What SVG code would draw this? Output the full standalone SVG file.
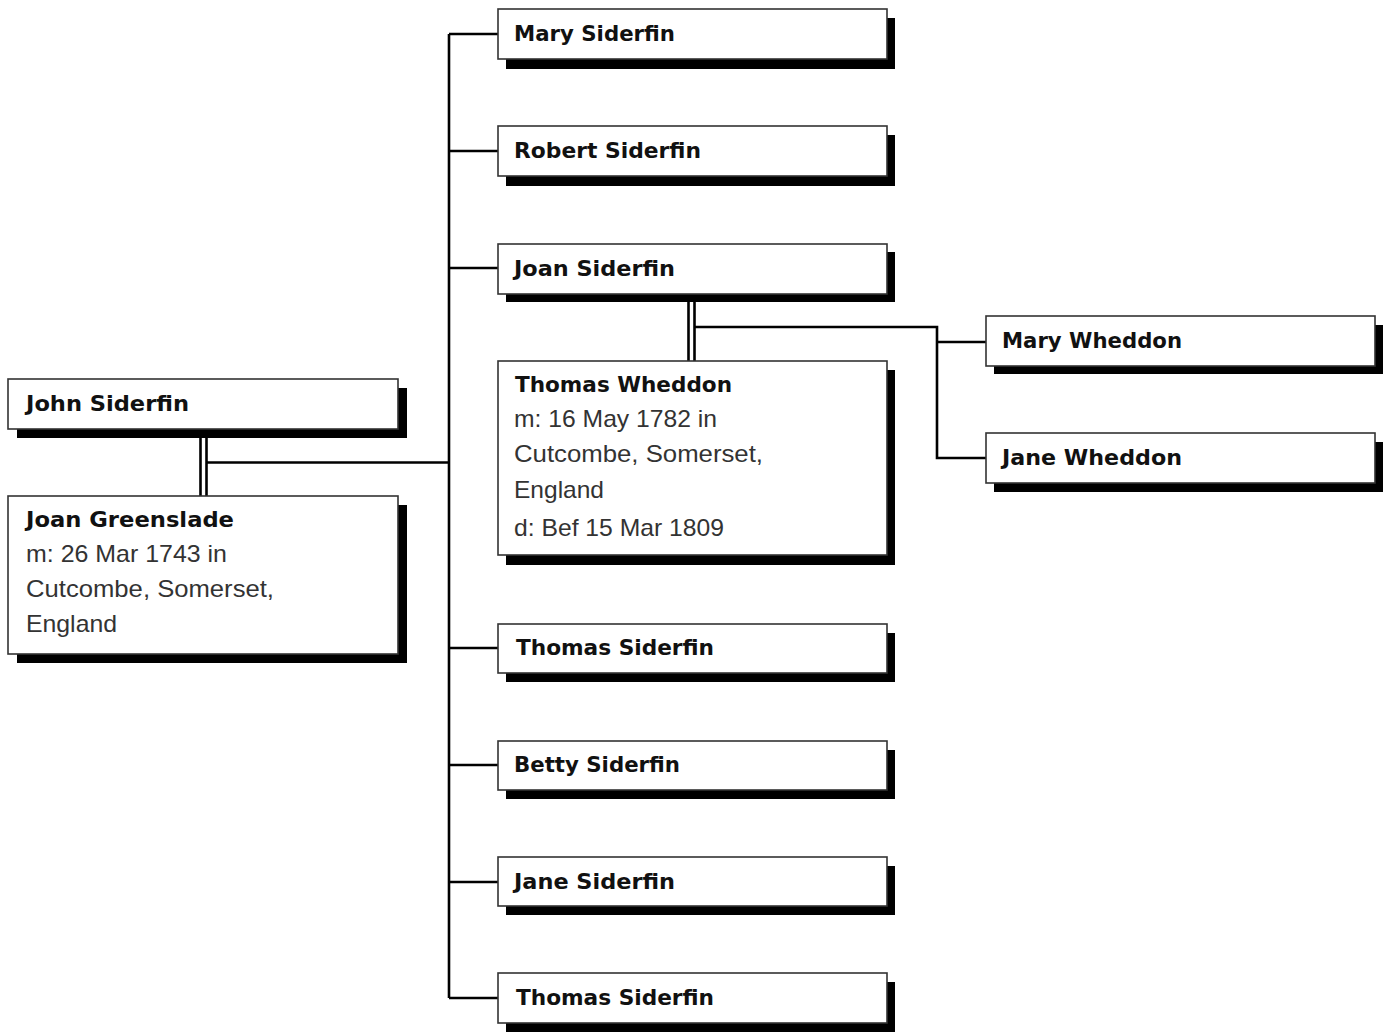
<svg xmlns="http://www.w3.org/2000/svg" width="1389" height="1033" viewBox="0 0 1389 1033">
<style>
.bg{fill:#fff}
.sh{fill:#000}
.bx{fill:#fff;stroke:#333;stroke-width:1.6}
.n{font-family:"DejaVu Sans",Verdana,sans-serif;font-weight:bold;font-size:21px;fill:#111}
.d{font-family:"Liberation Sans",Arial,sans-serif;font-size:24px;fill:#333}
.ln{fill:none;stroke:#000;stroke-width:2.6}
</style>
<rect class="bg" x="0" y="0" width="1389" height="1033"/>
<g id="connectors">
  <path class="ln" d="M449,34 V998"/>
  <path class="ln" d="M449,34 H498 M449,151 H498 M449,268 H498 M449,648 H498 M449,765 H498 M449,882 H498 M449,998 H498"/>
  <path class="ln" d="M200.5,429 V496 M206.5,429 V496 M206.5,462.5 H449"/>
  <path class="ln" d="M688.5,294 V361 M694.5,294 V361 M694.5,327 H937 V458 H986 M937,342 H986"/>
</g>
<g id="john-siderfin">
  <rect class="sh" x="17" y="388" width="390" height="50"/>
  <rect class="bx" x="8" y="379" width="390" height="50"/>
  <text class="n" x="26" y="411" textLength="163" lengthAdjust="spacingAndGlyphs">John Siderfin</text>
</g>
<g id="joan-greenslade">
  <rect class="sh" x="17" y="505" width="390" height="158"/>
  <rect class="bx" x="8" y="496" width="390" height="158"/>
  <text class="n" x="26" y="527" textLength="208" lengthAdjust="spacingAndGlyphs">Joan Greenslade</text>
  <text class="d" x="26" y="562" textLength="201" lengthAdjust="spacingAndGlyphs">m: 26 Mar 1743 in</text>
  <text class="d" x="26" y="597" textLength="248" lengthAdjust="spacingAndGlyphs">Cutcombe, Somerset,</text>
  <text class="d" x="26" y="632" textLength="91" lengthAdjust="spacingAndGlyphs">England</text>
</g>
<g id="mary-siderfin">
  <rect class="sh" x="506" y="18" width="389" height="51"/>
  <rect class="bx" x="498" y="9" width="389" height="50"/>
  <text class="n" x="514" y="41" textLength="161" lengthAdjust="spacingAndGlyphs">Mary Siderfin</text>
</g>
<g id="robert-siderfin">
  <rect class="sh" x="506" y="135" width="389" height="51"/>
  <rect class="bx" x="498" y="126" width="389" height="50"/>
  <text class="n" x="514" y="158" textLength="187" lengthAdjust="spacingAndGlyphs">Robert Siderfin</text>
</g>
<g id="joan-siderfin">
  <rect class="sh" x="506" y="252" width="389" height="50"/>
  <rect class="bx" x="498" y="244" width="389" height="50"/>
  <text class="n" x="514" y="276" textLength="161" lengthAdjust="spacingAndGlyphs">Joan Siderfin</text>
</g>
<g id="thomas-wheddon">
  <rect class="sh" x="506" y="370" width="389" height="195"/>
  <rect class="bx" x="498" y="361" width="389" height="194"/>
  <text class="n" x="515" y="392" textLength="217" lengthAdjust="spacingAndGlyphs">Thomas Wheddon</text>
  <text class="d" x="514" y="427" textLength="203" lengthAdjust="spacingAndGlyphs">m: 16 May 1782 in</text>
  <text class="d" x="514" y="462" textLength="249" lengthAdjust="spacingAndGlyphs">Cutcombe, Somerset,</text>
  <text class="d" x="514" y="498" textLength="90" lengthAdjust="spacingAndGlyphs">England</text>
  <text class="d" x="514" y="536" textLength="210" lengthAdjust="spacingAndGlyphs">d: Bef 15 Mar 1809</text>
</g>
<g id="mary-wheddon">
  <rect class="sh" x="994" y="325" width="389" height="49"/>
  <rect class="bx" x="986" y="316" width="389" height="50"/>
  <text class="n" x="1002" y="348" textLength="180" lengthAdjust="spacingAndGlyphs">Mary Wheddon</text>
</g>
<g id="jane-wheddon">
  <rect class="sh" x="994" y="442" width="389" height="50"/>
  <rect class="bx" x="986" y="433" width="389" height="50"/>
  <text class="n" x="1002" y="465" textLength="180" lengthAdjust="spacingAndGlyphs">Jane Wheddon</text>
</g>
<g id="thomas-siderfin-1">
  <rect class="sh" x="506" y="633" width="389" height="49"/>
  <rect class="bx" x="498" y="624" width="389" height="49"/>
  <text class="n" x="516" y="655" textLength="198" lengthAdjust="spacingAndGlyphs">Thomas Siderfin</text>
</g>
<g id="betty-siderfin">
  <rect class="sh" x="506" y="750" width="389" height="49"/>
  <rect class="bx" x="498" y="741" width="389" height="49"/>
  <text class="n" x="514" y="772" textLength="166" lengthAdjust="spacingAndGlyphs">Betty Siderfin</text>
</g>
<g id="jane-siderfin">
  <rect class="sh" x="506" y="866" width="389" height="49"/>
  <rect class="bx" x="498" y="857" width="389" height="49"/>
  <text class="n" x="514" y="889" textLength="161" lengthAdjust="spacingAndGlyphs">Jane Siderfin</text>
</g>
<g id="thomas-siderfin-2">
  <rect class="sh" x="506" y="982" width="389" height="50"/>
  <rect class="bx" x="498" y="973" width="389" height="50"/>
  <text class="n" x="516" y="1005" textLength="198" lengthAdjust="spacingAndGlyphs">Thomas Siderfin</text>
</g>
</svg>
